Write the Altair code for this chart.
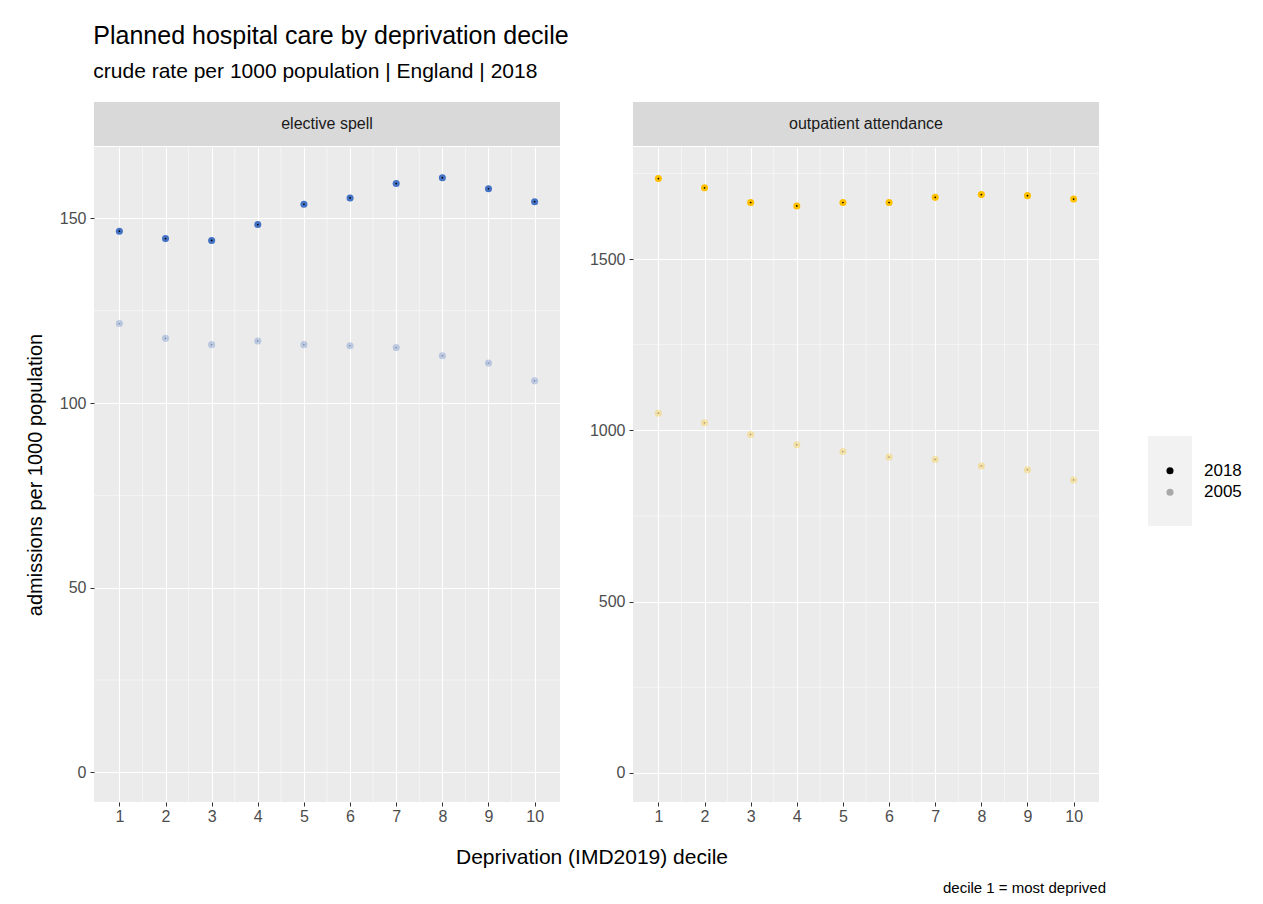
import altair as alt
import pandas as pd

deciles = list(range(1, 11))
years = ["2018", "2005"]
elective_2018 = [146.5, 144.5, 144.0, 148.3, 153.8, 155.5, 159.4, 161.0, 158.0, 154.5]
elective_2005 = [121.5, 117.5, 115.8, 116.8, 115.8, 115.5, 115.0, 112.8, 110.8, 106.0]
outpat_2018 = [1735, 1708, 1665, 1655, 1665, 1665, 1680, 1688, 1685, 1675]
outpat_2005 = [1050, 1022, 988, 958, 938, 922, 915, 896, 885, 855]

W, H, STRIP = 466, 655, 44
FONT = "Liberation Sans"
XDOM = [0.45, 10.55]
PLAIN = alt.ViewConfig(fill="white", stroke="white", strokeWidth=0)
OP = alt.Scale(domain=years, range=[1, 0.3])


def frame(v18, v05):
    rows = [{"decile": d, "rate": v, "year": "2018"} for d, v in zip(deciles, v18)]
    rows += [{"decile": d, "rate": v, "year": "2005"} for d, v in zip(deciles, v05)]
    return pd.DataFrame(rows)


def panel(df, label, colour, domain, major, minor, ytitle):
    x = alt.X("decile:Q", scale=alt.Scale(domain=XDOM, nice=False, zero=False),
              axis=alt.Axis(values=deciles, title=None, grid=True, gridColor="white",
                            gridWidth=1.1, tickColor="#333", labelColor="#4d4d4d",
                            labelFontSize=16, domain=False, tickSize=4))
    y = alt.Y("rate:Q", scale=alt.Scale(domain=domain, nice=False, zero=False),
              axis=alt.Axis(values=major, title=ytitle, format="d", grid=True,
                            gridColor="white", gridWidth=1.1, tickColor="#333",
                            labelColor="#4d4d4d", labelFontSize=16, titleFontSize=20,
                            titleFontWeight="normal", titleColor="black", domain=False,
                            tickSize=4, labelPadding=4, titlePadding=14))
    pts = alt.Chart(df).mark_circle(size=50, color=colour).encode(
        x=x, y=y, opacity=alt.Opacity("year:N", scale=OP, legend=None))
    dots = alt.Chart(df).mark_circle(size=3, color="black").encode(
        x=x, y=y, opacity=alt.Opacity("year:N", scale=OP, legend=None))
    minor_rules = alt.Chart(pd.DataFrame({"m": minor})).mark_rule(
        color="white", strokeWidth=0.5).encode(y="m:Q")
    minor_vrules = alt.Chart(pd.DataFrame({"m": [d + 0.5 for d in deciles[:-1]]})).mark_rule(
        color="white", strokeWidth=0.5).encode(x="m:Q")
    plot = alt.layer(pts, minor_rules, minor_vrules, dots).properties(width=W, height=H)
    strip_df = pd.DataFrame({"label": [label]})
    strip_bg = alt.Chart(strip_df).mark_rect(color="#d9d9d9").encode(
        x=alt.value(0), x2=alt.value(W), y=alt.value(0), y2=alt.value(STRIP))
    strip_tx = alt.Chart(strip_df).mark_text(fontSize=16, color="#1a1a1a", font=FONT).encode(
        x=alt.value(W / 2), y=alt.value(STRIP / 2), text="label:N")
    strip = alt.layer(strip_bg, strip_tx).properties(width=W, height=STRIP, view=PLAIN)
    return alt.vconcat(strip, plot, spacing=0)


left = panel(frame(elective_2018, elective_2005), "elective spell", "#4472c4",
             [-8.0, 169.3], [0, 50, 100, 150], [25, 75, 125],
             "admissions per 1000 population")
right = panel(frame(outpat_2018, outpat_2005), "outpatient attendance", "#ffc000",
              [-85, 1827], [0, 500, 1000, 1500], [250, 750, 1250, 1750], None)

# legend drawn as its own small chart
leg_df = pd.DataFrame({"year": years, "row": [0, 1]})
LX, LY = 20, 334
leg_bg = alt.Chart(leg_df).mark_rect(color="#f2f2f2").encode(
    x=alt.value(LX), x2=alt.value(LX + 44), y=alt.value(LY), y2=alt.value(LY + 90))
leg_pts = alt.Chart(leg_df).mark_circle(size=50, color="black").encode(
    x=alt.value(LX + 22),
    y=alt.Y("row:O", scale=alt.Scale(domain=[0, 1], range=[LY + 24, LY + 67]), axis=None),
    opacity=alt.Opacity("year:N", scale=OP, legend=None))
leg_tx = alt.Chart(leg_df).mark_text(fontSize=17, font=FONT, align="left", color="black").encode(
    x=alt.value(LX + 56),
    y=alt.Y("row:O", scale=alt.Scale(domain=[0, 1], range=[LY + 24, LY + 67]), axis=None),
    text="year:N")
legend = alt.layer(leg_bg, leg_pts, leg_tx).properties(width=110, height=H + STRIP, view=PLAIN)

row = alt.hconcat(left, right, legend, spacing=28).resolve_scale(
    y="independent", x="independent", opacity="independent")

TW = 2 * W + 70
xtitle = alt.Chart(pd.DataFrame({"t": ["Deprivation (IMD2019) decile"]})).mark_text(
    fontSize=21, font=FONT, color="black").encode(
    x=alt.value(TW / 2 - 3), y=alt.value(34), text="t:N").properties(
    width=TW, height=46, view=PLAIN)
caption = alt.Chart(pd.DataFrame({"t": ["decile 1 = most deprived"]})).mark_text(
    fontSize=15, font=FONT, color="black", align="right").encode(
    x=alt.value(TW + 10), y=alt.value(18), text="t:N").properties(
    width=TW, height=20, view=PLAIN)

chart = alt.vconcat(row, xtitle, caption, spacing=0).properties(
    title=alt.Title("Planned hospital care by deprivation decile",
                    subtitle="crude rate per 1000 population | England | 2018",
                    anchor="start", fontSize=25, subtitleFontSize=21, font=FONT,
                    subtitleFont=FONT, fontWeight="normal", color="black",
                    subtitleColor="black", subtitlePadding=12, offset=20, dx=68),
    background="white",
    padding={"top": 16, "left": 17, "right": 5, "bottom": 5},
).configure(font=FONT).configure_view(fill="#ebebeb", strokeWidth=0)

chart.save("out.html", embed_options={"renderer": "svg", "actions": False})
